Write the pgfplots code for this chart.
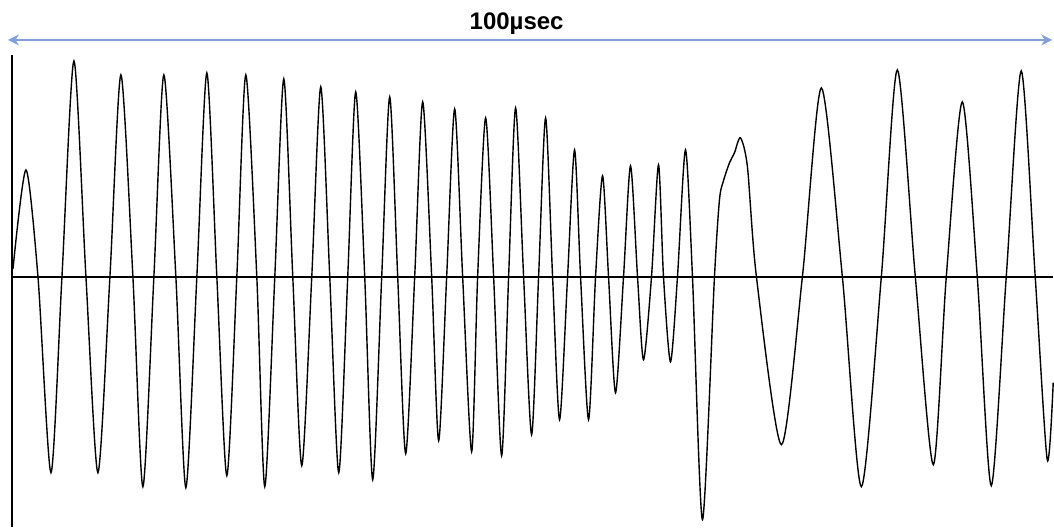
\documentclass[border=0pt]{standalone}
\usepackage{fontspec}
\setmainfont{Liberation Sans}
\usepackage{pgfplots}
\pgfplotsset{compat=1.18}
\usetikzlibrary{arrows.meta}
\definecolor{arrowblue}{RGB}{130,160,215}
\begin{document}
\begin{tikzpicture}
\begin{axis}[
  at={(0,0)}, anchor=south west,
  scale only axis, width=1054pt, height=527pt,
  xmin=0, xmax=1054, ymin=-250, ymax=277,
  hide axis, clip=false,
]
\path (axis cs:0,-250) rectangle (axis cs:1054,277);
% left axis line and zero line
\addplot[black, line width=1.6pt] coordinates {(12,-250) (12,222)};
\addplot[black, line width=1.6pt] coordinates {(12,0) (1054,0)};
% waveform
\addplot[black, line width=1.4pt, smooth, tension=0.45] coordinates {
(13,8) (26,107) (38,0) (51,-196) (62,0) (74,216) (86,0) (98,-196) (110,0)
(121,202) (133,0) (143,-210) (154,0) (164,202) (176,0) (186,-211) (197,0)
(207,204) (217,0) (227,-199) (237,0) (246,202) (257,0) (265,-210) (275,0)
(284,198) (293,0) (302,-189) (312,0) (321,190) (330,0) (339,-196) (348,0)
(356,185) (365,0) (373,-203) (382,0) (390,180) (398,0) (406,-177) (415,0)
(423,175) (432,0) (439,-164) (447,0) (455,168) (463,0) (472,-175) (478,0)
(486,159) (494,0) (502,-179) (509,0) (516,169) (524,0) (532,-158) (539,0)
(546,159) (553,0) (560,-143) (568,0) (575,127) (581,0) (589,-143) (596,0)
(603,101) (609,0) (616,-116) (624,0) (631,111) (638,0) (644,-83) (652,0)
(659,112) (664,0) (671,-85) (678,0) (686,127) (693,0) (703,-243) (715,0)
(720,77) (724,96) (730,114) (735,124) (741,139) (748,110) (757,0)
(782,-168) (803,0) (822,189) (843,0) (862,-210) (882,0) (898,207) (916,0)
(934,-188) (947,0) (963,175) (978,0) (992,-209) (1007,0) (1022,206)
(1036,0) (1048,-183) (1054,-106)
};
% time span arrow and label
\draw[arrowblue, line width=1.2pt, {Stealth[length=11pt,width=11pt]}-{Stealth[length=11pt,width=11pt]}]
  (axis cs:8,237) -- (axis cs:1053,237);
\node[font=\bfseries\fontsize{24}{28}\selectfont, anchor=base] at (axis cs:517,247) {100µsec};
\end{axis}
\end{tikzpicture}
\end{document}
